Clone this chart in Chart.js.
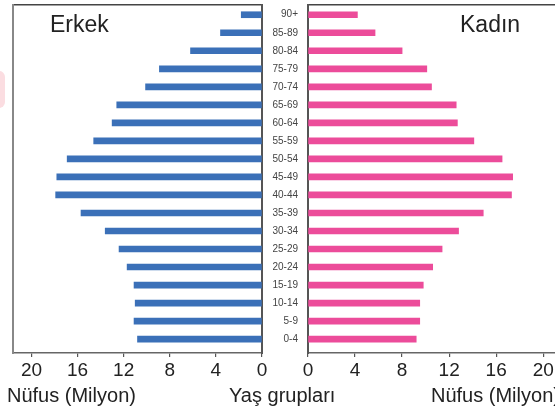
<!DOCTYPE html>
<html>
<head>
<meta charset="utf-8">
<script src="https://cdn.jsdelivr.net/npm/chart.js@4.4.1/dist/chart.umd.min.js"></script>
<style>
  html, body { margin: 0; padding: 0; background: #fff; }
  body { width: 555px; height: 407px; position: relative; overflow: hidden; font-family: "Liberation Sans", Arial, sans-serif; }
  canvas { position: absolute; top: 0; }
  .txt { position: absolute; white-space: nowrap; color: #222; line-height: 1; }
  .blob { position: absolute; left: -7px; top: 71px; width: 12px; height: 37px; background: #fbdde1; border-radius: 6px; }
</style>
</head>
<body>
<div class="blob"></div>
<canvas id="male" width="275" height="407" style="left:0;width:275px;height:407px"></canvas>
<canvas id="female" width="293" height="407" style="left:262px;width:293px;height:407px"></canvas>
<div class="txt" style="left:50px;top:13px;font-size:23px;">Erkek</div>
<div class="txt" style="left:460px;top:13px;font-size:23px;">Kadın</div>
<div class="txt" style="left:7px;top:385px;font-size:20px;">Nüfus (Milyon)</div>
<div class="txt" style="left:229px;top:385px;font-size:20px;">Yaş grupları</div>
<div class="txt" style="left:431px;top:385px;font-size:20px;">Nüfus (Milyon)</div>
<script>
// Age groups, top to bottom
const ageGroups = ["90+","85-89","80-84","75-79","70-74","65-69","60-64","55-59","50-54","45-49","40-44","35-39","30-34","25-29","20-24","15-19","10-14","5-9","0-4"];
// Population in millions
const maleValues   = [1.8, 3.6, 6.2, 8.9, 10.1, 12.6, 13.0, 14.6, 16.9, 17.8, 17.9, 15.7, 13.6, 12.4, 11.7, 11.1, 11.0, 11.1, 10.8];
const femaleValues = [4.2, 5.7, 8.0, 10.1, 10.5, 12.6, 12.7, 14.1, 16.5, 17.4, 17.3, 14.9, 12.8, 11.4, 10.6, 9.8, 9.5, 9.5, 9.2];
const xTicks = [0, 4, 8, 12, 16, 20];

const FONT = "'Liberation Sans', Arial, sans-serif";
Chart.defaults.font.family = FONT;
Chart.defaults.devicePixelRatio = 1;

function noPad(s) { s.paddingTop = 0; s.paddingBottom = 0; s.paddingLeft = 0; s.paddingRight = 0; }

function xAxis(reverse, max) {
  return {
    type: 'linear', position: 'bottom', reverse: reverse, min: 0, max: max,
    afterBuildTicks: s => { s.ticks = xTicks.map(v => ({ value: v })); },
    afterFit: s => { s.height = 54; noPad(s); },
    ticks: { color: '#222', font: { size: 19 }, padding: 2, maxRotation: 0, autoSkip: false },
    grid: { display: true, drawOnChartArea: false, drawTicks: true, tickLength: 4, color: '#555', lineWidth: 1.2 },
    border: { display: true, color: '#666', width: 1.5 }
  };
}
function topBorder() {
  return {
    type: 'linear', position: 'top', display: true,
    afterFit: s => { s.height = 0; noPad(s); },
    ticks: { display: false }, grid: { display: false },
    border: { display: true, color: '#444', width: 1.5 }
  };
}
// age-group index axis (index 0 = 90+ at the top)
function ageAxis(position, showLabels, borderColor) {
  return {
    type: 'linear', position: position, reverse: true, offset: false, min: -0.54, max: 18.77,
    afterBuildTicks: s => { s.ticks = ageGroups.map((g, i) => ({ value: i })); },
    afterFit: s => { s.width = showLabels ? 46 : 0; noPad(s); },
    ticks: {
      display: showLabels, color: '#444', font: { size: 10 }, padding: 10,
      crossAlign: 'near', autoSkip: false,
      callback: v => ageGroups[v]
    },
    grid: { display: false, drawTicks: false, offset: false },
    border: { display: true, color: borderColor, width: 2 }
  };
}
const toPoints = vals => vals.map((v, i) => ({ x: v, y: i }));

new Chart(document.getElementById('male'), {
  type: 'bar',
  data: {
    datasets: [{ data: toPoints(maleValues), backgroundColor: '#3b70b8', barThickness: 6, xAxisID: 'x', yAxisID: 'y' }]
  },
  options: {
    indexAxis: 'y', responsive: false, animation: false,
    layout: { padding: { left: 13, right: 13, top: 5, bottom: 0 } },
    plugins: { legend: { display: false }, tooltip: { enabled: false } },
    scales: {
      x: xAxis(true, 21.6),
      xt: topBorder(),
      y: ageAxis('right', false, '#555'),
      yl: {
        type: 'linear', position: 'left',
        afterFit: s => { s.width = 0; noPad(s); },
        ticks: { display: false }, grid: { display: false },
        border: { display: true, color: '#888', width: 2 }
      }
    }
  }
});

new Chart(document.getElementById('female'), {
  type: 'bar',
  data: {
    datasets: [{ data: toPoints(femaleValues), backgroundColor: '#ec4c9a', barThickness: 6, xAxisID: 'x', yAxisID: 'y' }]
  },
  options: {
    indexAxis: 'y', responsive: false, animation: false,
    layout: { padding: { left: 0, right: 0, top: 5, bottom: 0 } },
    plugins: { legend: { display: false }, tooltip: { enabled: false } },
    scales: {
      x: xAxis(false, 21),
      xt: topBorder(),
      y: ageAxis('left', true, '#555')
    }
  }
});
</script>
</body>
</html>
